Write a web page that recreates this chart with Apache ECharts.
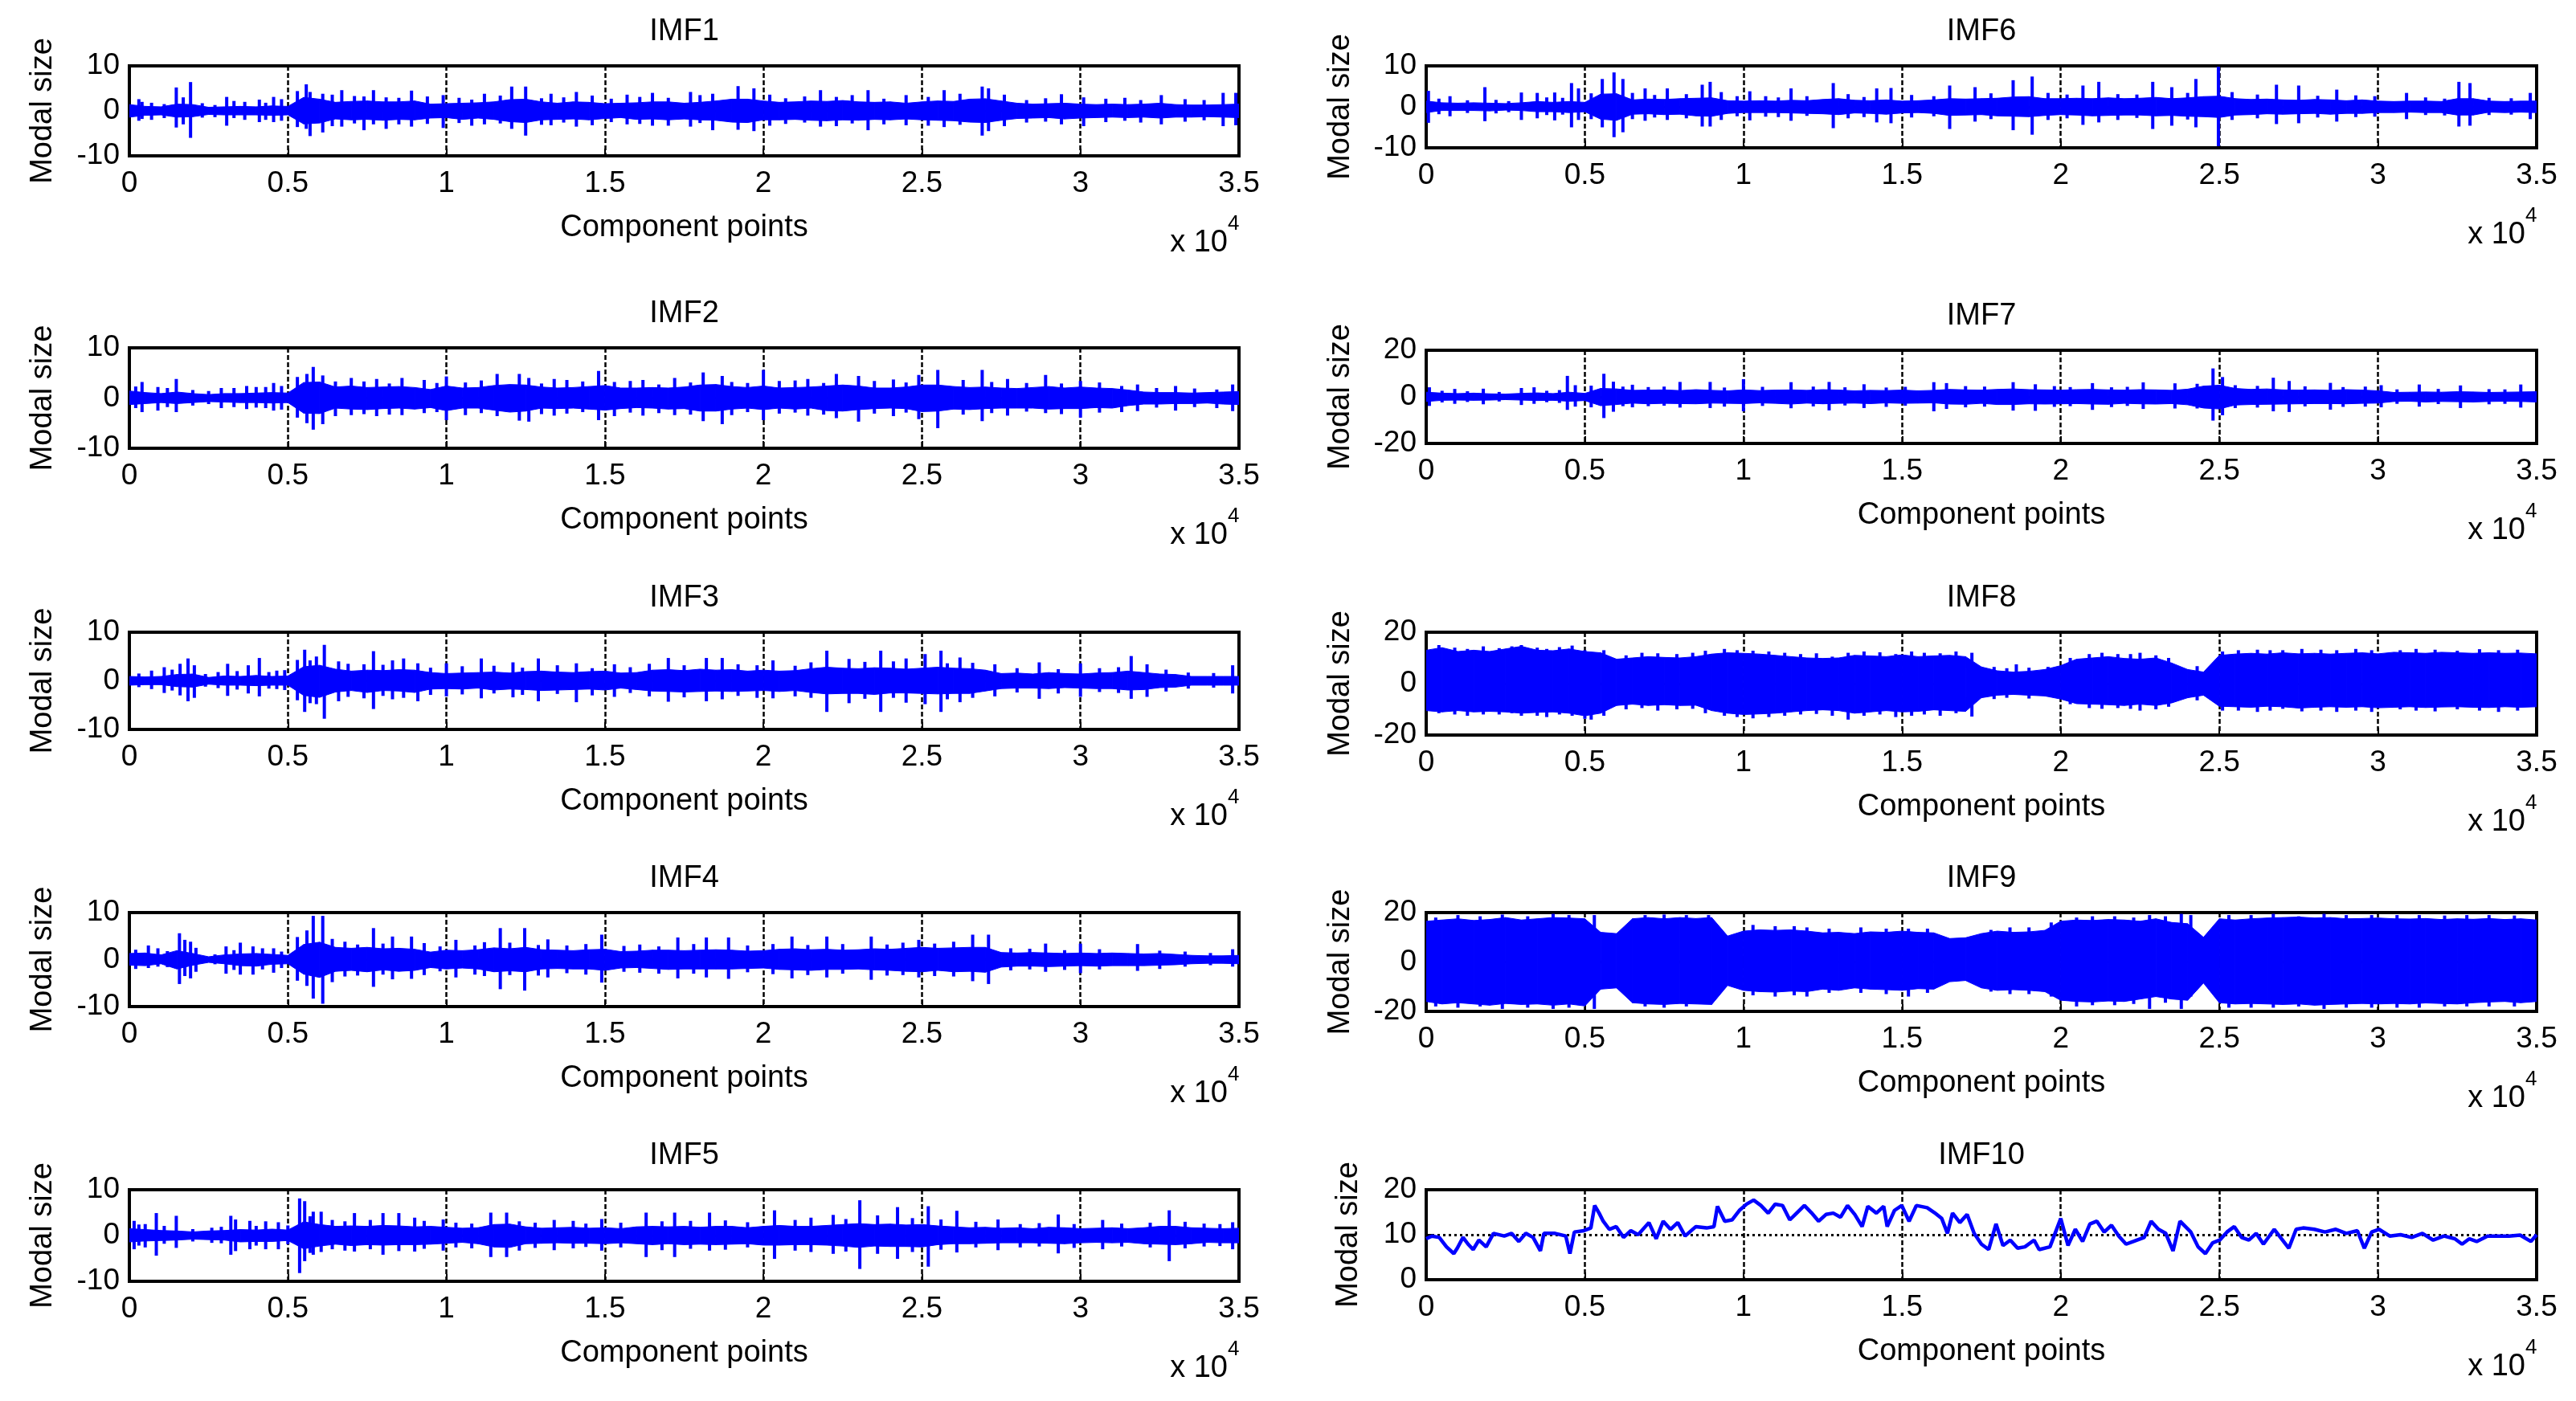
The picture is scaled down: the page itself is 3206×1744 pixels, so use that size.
<!DOCTYPE html>
<html><head><meta charset="utf-8">
<script src="https://cdn.jsdelivr.net/npm/echarts@6/dist/echarts.min.js"></script>
<style>html,body{margin:0;padding:0;background:#fff}#c{width:3206px;height:1744px}</style>
</head><body><div id="c"></div>
<script>
// ---------- tick labels / names ----------
const xTickLabels = ['0','0.5','1','1.5','2','2.5','3','3.5'];
const titles = ['IMF1','IMF2','IMF3','IMF4','IMF5','IMF6','IMF7','IMF8','IMF9','IMF10'];
const STEP = 500; // envelope samples every 500 component points (0 ... 35000)

// ---------- IMF1 ----------
const imf1Hi = [1.4,1.0,0.9,1.5,1.4,0.8,0.9,1.0,0.9,1.1,1.0, 3.0,2.6,1.9,2.1,2.2,2.0,2.0,2.2,1.5,1.6, 1.7,1.8,2.0,2.5,2.6,2.0,1.7,2.0,1.9,1.6, 1.7,1.8,2.0,2.0,1.7,1.9,2.2,2.6,2.6,2.2, 1.9,2.0,2.2,2.1,2.3,2.0,1.9,2.0,1.7,2.0, 2.2,2.1,2.6,2.7,2.2,1.7,1.5,1.6,1.7,1.5, 1.4,1.5,1.4,1.5,1.7,1.4,1.3,1.3,1.4,1.5];
const imf1Lo = [-1.4,-1.0,-0.9,-1.4,-1.3,-0.8,-0.9,-0.9,-0.9,-1.0,-0.9, -2.9,-2.7,-1.8,-2.0,-1.9,-2.1,-1.9,-2.0,-1.6,-1.5, -1.9,-1.6,-1.9,-2.4,-2.6,-2.0,-1.9,-1.8,-2.0,-1.7, -1.5,-1.9,-1.8,-2.0,-1.8,-2.0,-2.1,-2.5,-2.6,-2.0, -2.0,-1.9,-2.1,-2.2,-2.0,-2.1,-1.9,-2.0,-1.8,-2.0, -2.1,-2.2,-2.5,-2.6,-2.1,-1.7,-1.6,-1.5,-1.8,-1.6, -1.5,-1.4,-1.5,-1.4,-1.6,-1.4,-1.4,-1.3,-1.4,-1.5];
const imf1Spikes = [[300,-2.2,2.6],[400,-1.8,2],[700,-2,1.8],[1100,-1.6,1.5],[1480,-3.7,5.2],[1700,-3,3],[1930,-6,6.4],[2300,-1.5,1.7],[2700,-1.4,1.3],[3070,-3.3,3.1],[3300,-1.6,2.2],[3640,-2,2],[4100,-2.5,2.5],[4300,-2,1.8],[4550,-2.5,3.1],[4800,-2.2,2.6],[5300,-3.6,4.4],[5580,-4,5.9],[5700,-5.6,4.2],[6100,-4.8,3.8],[6400,-3.4,3.6],[6700,-3.5,4.6],[7100,-2.8,3.3],[7400,-4.3,3.2],[7700,-3,4.6],[8100,-4,3],[8500,-3,2.9],[8900,-3.5,4.5],[9400,-2.9,3.2],[9900,-3.8,3.5],[10400,-2.7,2.9],[10800,-3.3,2.5],[11200,-3,3.8],[11700,-2.8,3.4],[12060,-4,5.4],[12500,-5.5,5.4],[13000,-3.1,2.8],[13300,-3.2,3.8],[13700,-2.6,3],[14100,-3.5,4.2],[14600,-3.2,3.4],[15200,-2.5,2.7],[15700,-3,3.6],[16100,-2.9,3.1],[16500,-3.3,4],[17000,-3.3,2.9],[17700,-3.5,4.2],[18000,-2.7,3.5],[18400,-4.3,3.8],[19200,-4.2,5.5],[19700,-4.5,5],[20200,-3.3,3.6],[20700,-2.9,2.8],[21300,-2.6,3.2],[21800,-3.5,4.6],[22300,-3.4,3.1],[22800,-2.8,3.5],[23300,-4.3,4.6],[23800,-3,2.7],[24500,-3.2,3.5],[25200,-3.3,3.1],[25700,-3.6,4.6],[26200,-3.1,3.8],[26900,-5.5,5.4],[27100,-4.5,5],[27600,-3.4,3.6],[28300,-2.6,2.4],[28900,-2.4,2.8],[29400,-3,3.7],[30100,-3.4,3],[30800,-2.5,2.7],[31400,-2.2,2.9],[31900,-2.6,2.4],[32550,-3,3.5],[33300,-2.4,2.6],[33900,-2.1,2.4],[34500,-3.4,4],[34900,-3.2,4]];

// ---------- IMF2 ----------
const imf2Hi = [1.4,1.1,0.9,1.2,0.9,0.7,0.9,0.9,1.0,1.1,1.0, 3.1,3.2,2.2,2.4,2.1,2.2,2.3,2.1,1.7,2.4, 2.0,2.1,2.5,2.7,2.6,2.2,2.0,2.1,2.3,2.5, 2.0,2.0,2.1,2.0,2.2,2.6,2.7,2.3,2.1,2.4, 2.0,2.1,2.2,2.4,2.6,2.4,2.0,2.0,2.2,2.6, 2.6,2.3,2.1,2.2,2.0,1.9,2.1,2.3,2.0,2.2, 2.0,1.9,1.6,1.2,1.1,1.1,1.0,1.1,1.2,1.3];
const imf2Lo = [-1.3,-1.1,-0.9,-1.1,-0.9,-0.7,-0.8,-0.9,-0.9,-1.0,-0.9, -3.0,-3.1,-2.0,-2.2,-2.3,-2.1,-2.0,-2.2,-1.9,-2.5, -2.0,-2.0,-2.4,-2.8,-2.6,-2.0,-2.1,-2.0,-2.2,-2.4, -2.1,-1.9,-2.0,-2.2,-2.1,-2.6,-2.6,-2.2,-2.0,-2.3, -2.0,-2.2,-2.0,-2.5,-2.6,-2.3,-2.1,-2.0,-2.1,-2.7, -2.6,-2.2,-2.3,-2.1,-2.0,-2.0,-2.0,-2.2,-2.1,-2.1, -1.9,-2.0,-1.5,-1.2,-1.2,-1.1,-1.1,-1.0,-1.2,-1.3];
const imf2Spikes = [[200,-2,2.3],[400,-2.8,3.2],[900,-2.5,2.2],[1200,-1.8,2],[1480,-2.8,3.8],[2000,-1.5,1.6],[2500,-1.2,1.4],[2900,-2,2],[3300,-1.8,2],[3700,-2.2,2.4],[4000,-1.9,2.2],[4300,-2,2.2],[4550,-2.5,3],[4800,-2.3,2.4],[5300,-3.9,4.2],[5600,-5,4.8],[5800,-6.3,6.2],[6100,-5.2,4.5],[6500,-3.6,3.3],[7000,-3.4,4],[7400,-3.2,3.3],[7800,-3.6,3.8],[8200,-3.3,2.9],[8600,-3.4,4],[9300,-3,3.6],[9700,-2.8,3],[10000,-4.4,4.3],[10600,-3.4,3.1],[11100,-3,3.5],[11600,-3.6,4.8],[12300,-4.5,4.8],[12600,-4.7,4],[13000,-3.2,2.9],[13400,-3.5,3.8],[13800,-3.1,3.6],[14300,-2.8,3.3],[14800,-4.4,5.4],[15300,-3.6,3.2],[15800,-2.9,3.4],[16200,-3.5,3.6],[16700,-3,2.7],[17200,-3.4,4],[17700,-3.3,3.1],[18100,-4.6,5.1],[18700,-5.2,4.4],[19000,-3.4,3.2],[19500,-2.8,3],[20000,-4.4,5.6],[20500,-3.1,3.4],[21000,-2.9,3.5],[21400,-3.5,3.8],[21900,-3.3,3],[22300,-4,4.8],[23000,-4.7,4.4],[23500,-3.1,3.4],[24100,-3.6,3.7],[24500,-2.9,3.1],[24900,-4.2,4.6],[25500,-6,5.6],[26300,-3.3,3.6],[26900,-4.6,5.6],[27200,-3,3.2],[27700,-3.5,3.8],[28300,-2.7,3],[28900,-3,4.6],[29400,-3.2,2.9],[30000,-3.9,3.4],[30600,-2.9,3.1],[31300,-2.8,2.4],[31800,-2.6,2.7],[32400,-1.9,2],[33000,-2.5,2.4],[33600,-1.8,1.9],[34300,-2,1.7],[34800,-2.6,2.7]];

// ---------- IMF3 ----------
const imf3Hi = [0.9,0.8,0.9,1.3,1.4,0.7,1.0,0.9,1.1,0.9,1.0, 2.9,3.2,2.4,2.0,2.2,2.1,2.3,2.2,1.7,1.5, 1.6,1.7,1.8,1.6,1.9,2.0,1.8,1.7,1.9,2.0, 1.6,1.7,2.2,2.3,2.1,2.4,2.2,2.3,2.0,2.2, 2.0,2.1,2.5,2.8,2.6,2.5,2.7,2.6,2.4,2.6, 2.8,2.6,2.5,2.2,1.5,1.6,1.4,1.7,1.5,1.4, 1.6,1.7,2.0,1.7,1.4,1.3,0.9,0.9,0.9,0.9];
const imf3Lo = [-0.9,-0.8,-0.8,-1.2,-1.3,-0.7,-0.9,-0.9,-1.0,-0.9,-0.9, -3.0,-3.4,-2.3,-2.0,-2.4,-2.0,-2.1,-2.4,-1.7,-1.6, -1.7,-1.5,-1.9,-1.7,-1.8,-2.0,-1.9,-1.8,-1.7,-1.9, -1.5,-1.8,-2.1,-2.2,-2.3,-2.2,-2.1,-2.2,-2.1,-2.0, -2.2,-2.0,-2.4,-2.7,-2.6,-2.6,-2.8,-2.5,-2.5,-2.6, -2.7,-2.6,-2.6,-2.1,-1.6,-1.5,-1.5,-1.6,-1.4,-1.5, -1.6,-1.6,-1.9,-1.8,-1.4,-1.3,-0.9,-0.9,-0.9,-0.9];
const imf3Spikes = [[300,-1.3,1.5],[700,-1.7,2.1],[1100,-2.5,2.8],[1350,-2,2.3],[1600,-3,3.5],[1850,-4.2,4.6],[2050,-3.5,3.2],[2400,-1.2,1.4],[2800,-1.5,1.8],[3100,-3.1,3.5],[3400,-1.8,2],[3750,-2.6,3.2],[4100,-3.2,4.7],[4400,-1.6,1.8],[4650,-1.7,2.1],[4900,-1.9,2.2],[5300,-4,4.3],[5530,-6.4,6.4],[5700,-4.6,4.2],[5900,-4.8,5],[6150,-7.8,7.4],[6600,-4.2,4],[6900,-3.3,3.5],[7400,-3.6,3.4],[7700,-5.8,6.1],[8000,-3.1,3.3],[8300,-3.8,4.2],[8650,-3.5,4.6],[9100,-4.2,3.6],[9500,-2.9,2.7],[10000,-3.2,3.6],[10500,-2.8,3],[11100,-3.6,4.6],[11500,-2.6,3.1],[12100,-3.4,3.8],[12400,-2.9,2.7],[12900,-4.2,4.6],[13500,-2.7,3.2],[14100,-4.4,3.6],[14600,-3,2.6],[15300,-3.3,3.4],[15800,-2.5,2.8],[16400,-3.2,3.5],[17000,-4.3,4.7],[17500,-3.4,3.2],[18200,-4.2,4.7],[18700,-3.8,4.7],[19200,-3.1,3.4],[19800,-3.5,3.2],[20300,-3.6,4.2],[21000,-3.2,3.1],[21500,-3.5,3.8],[22000,-6.4,6.2],[22700,-4.6,4.5],[23200,-3.7,3.9],[23700,-6.4,6.2],[24100,-3.5,4],[24500,-4.5,4.6],[25100,-4.8,5.5],[25600,-6.4,6.2],[25800,-3.8,3.6],[26200,-4.4,4.8],[26600,-3.5,3.7],[27300,-3.2,3.4],[28000,-2.4,2.6],[28700,-3.7,3.8],[29300,-2.6,2.4],[30000,-3.3,3.6],[30600,-2.3,2.6],[31200,-2.5,2.8],[31600,-3.7,5.1],[32100,-3.3,3.4],[32700,-2.2,2.3],[33400,-1.6,1.7],[34200,-1.4,1.6],[34800,-2.6,3.2]];

// ---------- IMF4 ----------
const imf4Hi = [1.3,1.4,1.0,1.9,1.3,0.6,1.0,1.2,1.3,1.1,0.9, 3.2,3.7,2.6,2.4,2.6,2.3,2.4,2.2,1.6,2.0, 1.9,2.1,2.5,2.3,2.6,2.1,2.0,1.9,2.1,2.2, 1.7,1.8,2.0,2.0,1.9,2.0,2.1,2.0,1.8,1.9, 2.2,2.3,2.1,2.2,2.0,2.1,2.3,2.2,2.4,2.6, 2.4,2.5,2.6,2.6,1.5,1.4,1.5,1.4,1.3,1.4, 1.3,1.4,1.3,1.2,1.3,1.1,0.9,0.8,0.8,0.9];
const imf4Lo = [-1.2,-1.3,-0.9,-2.0,-1.2,-0.6,-0.9,-1.3,-1.4,-1.0,-0.9, -3.1,-3.8,-2.5,-2.3,-2.6,-2.2,-2.5,-2.3,-1.7,-2.0, -1.8,-2.0,-2.6,-2.4,-2.6,-2.0,-1.9,-2.0,-2.0,-2.3, -1.8,-1.7,-1.9,-2.1,-2.0,-2.0,-2.0,-2.0,-1.9,-1.8, -2.1,-2.2,-2.3,-2.1,-2.1,-2.0,-2.2,-2.3,-2.5,-2.6, -2.3,-2.6,-2.5,-2.7,-1.6,-1.4,-1.4,-1.5,-1.4,-1.3, -1.4,-1.3,-1.3,-1.3,-1.2,-1.1,-0.9,-0.8,-0.8,-0.9];
const imf4Spikes = [[200,-2,2.1],[600,-1.8,3],[900,-1.5,2.4],[1200,-1.6,1.8],[1580,-5.2,5.6],[1750,-3.5,4.2],[1930,-4,3.8],[2100,-2.6,2.5],[2700,-1,1.1],[3050,-3,2.8],[3300,-2.2,2],[3500,-3.2,3.6],[3900,-3.2,2.8],[4200,-2.1,2.4],[4550,-2.8,2.4],[4800,-1.8,1.7],[5300,-4.5,4.8],[5600,-5.6,6.2],[5800,-8.3,9.3],[6100,-9.4,9.3],[6400,-4.8,4.4],[6800,-3.6,3.8],[7200,-3.4,3.2],[7700,-5.8,6.7],[8000,-3.2,3.4],[8300,-4.2,4.9],[8900,-4.1,4.9],[9300,-3.3,3.5],[9800,-2.5,2.8],[10300,-3.8,4.2],[10900,-3.2,3],[11200,-3.5,3.7],[11700,-6.3,6.7],[12000,-3.3,3.6],[12470,-6.6,6.7],[12900,-3.4,3.1],[13200,-3.8,4.3],[13800,-2.9,3],[14400,-3.2,3.3],[14900,-4.9,5.3],[15600,-2.6,2.9],[16100,-2.8,3.2],[16700,-3,2.8],[17300,-4,4.7],[17800,-3,3.3],[18200,-3.8,4.7],[18900,-4.1,4.7],[19500,-2.7,3],[20300,-3.1,3.3],[20900,-4,4.9],[21400,-3.3,3.1],[22000,-3.8,4.9],[22500,-3,3.3],[23400,-4.3,4.9],[23900,-3.4,3.2],[24400,-3.3,3.6],[24900,-3.8,4.2],[25400,-3.5,3.4],[26000,-3.6,3.8],[26600,-4.6,5.3],[27100,-5.2,5.3],[27800,-2.3,2.4],[28400,-2.1,2.3],[28900,-2.6,3.4],[29500,-2.2,2],[30000,-2.9,3.4],[30600,-2.1,2.2],[31800,-2.4,3.3],[32500,-2,1.9],[33300,-1.5,1.7],[34100,-1.2,1.4],[34800,-1.5,2.2]];

// ---------- IMF5 ----------
const imf5Hi = [1.5,1.3,1.1,1.0,0.8,1.0,1.1,1.3,1.2,1.4,1.2, 3.0,2.4,2.0,2.1,2.0,2.2,2.1,1.9,2.0,1.8, 1.6,1.7,2.4,2.5,1.9,1.6,1.7,1.8,1.6,1.7, 1.5,1.9,2.0,1.9,2.0,1.8,2.0,2.0,1.7,2.0, 2.2,2.0,2.0,2.2,2.4,2.6,2.4,2.5,2.3,2.4, 2.1,1.9,1.7,1.8,1.6,1.7,1.5,1.8,1.7,1.5, 1.6,1.7,1.5,1.7,2.0,2.0,1.7,1.6,1.5,1.6];
const imf5Lo = [-1.4,-1.2,-1.1,-1.0,-0.8,-0.9,-1.0,-1.4,-1.3,-1.3,-1.1, -2.9,-2.3,-1.9,-2.2,-2.0,-2.1,-2.0,-2.0,-1.9,-1.7, -1.5,-1.8,-2.5,-2.6,-1.8,-1.7,-1.6,-1.7,-1.7,-1.8, -1.6,-1.8,-2.0,-1.8,-2.0,-1.9,-2.0,-1.9,-1.8,-2.1, -2.1,-2.0,-2.0,-2.1,-2.3,-2.6,-2.3,-2.4,-2.4,-2.5, -2.0,-1.8,-1.8,-1.7,-1.6,-1.6,-1.6,-1.7,-1.8,-1.6, -1.5,-1.6,-1.5,-1.8,-1.9,-2.0,-1.8,-1.5,-1.6,-1.6];
const imf5Spikes = [[150,-3,3.2],[300,-2.2,2.4],[500,-2.6,2.5],[850,-4.4,4.9],[1100,-1.8,2.1],[1480,-2.7,4.3],[2000,-1.3,1.4],[2600,-1.6,1.7],[2900,-1.7,1.9],[3200,-4.2,4.3],[3350,-3.4,3.5],[3800,-3,3.2],[4000,-2.2,2.1],[4300,-3,3.1],[4700,-3,2.9],[5000,-1.9,2.2],[5370,-8.2,8.1],[5530,-5.6,7.5],[5700,-3.8,4.2],[5800,-4.2,5.2],[6050,-3.6,5.2],[6400,-3,3.4],[6800,-3.3,3.1],[7100,-3.5,4.9],[7600,-3,3.4],[8000,-4.2,4.9],[8500,-3.4,4.9],[9000,-3.5,3.9],[9300,-2.9,3.2],[9900,-3.3,3.5],[10300,-2.6,2.8],[10800,-2.8,2.6],[11400,-4.7,5],[11900,-4.7,5],[12300,-3.3,3.1],[12800,-2.7,2.8],[13400,-3.2,3.4],[14000,-2.8,3.2],[14400,-2.5,2.6],[14900,-3.3,3.6],[15500,-2.6,2.8],[16300,-4.7,5],[16800,-3.2,3.1],[17200,-4.7,5],[17700,-2.9,3.2],[18300,-3.3,5],[18800,-3.1,3.3],[19500,-2.6,2.9],[20350,-5.1,5.5],[21000,-3.3,3.4],[21500,-3.6,3.9],[22200,-4,4.5],[22600,-3.5,3.6],[23040,-7.3,7.7],[23600,-4,4.4],[24230,-5.1,6.2],[24700,-3.6,3.8],[25200,-6.8,6.4],[25600,-3.1,3.5],[26100,-3.7,5.4],[26700,-2.6,3],[27400,-3.2,3.5],[28100,-2.6,2.5],[28700,-2.4,2.7],[29300,-3.9,4.6],[29800,-2.7,2.5],[30700,-3,3.4],[31300,-2.4,2.6],[32200,-2.6,2.8],[32800,-5.6,5.5],[33300,-2.8,3],[33900,-2.4,2.6],[34400,-2.3,2.5],[34800,-3,2.9]];

// ---------- IMF6 ----------
const imf6Hi = [1.4,1.0,0.9,1.0,0.9,0.8,1.0,1.3,1.1,1.3,1.1, 3.1,3.2,1.7,1.9,1.8,2.0,2.1,2.2,1.5,1.4, 1.5,1.4,1.6,1.5,1.8,2.0,1.6,1.5,1.7,1.4, 1.5,1.7,2.0,1.9,2.0,2.1,2.4,2.5,2.0,2.0, 2.1,2.0,2.2,2.0,2.1,2.3,2.0,2.2,2.5,2.6, 2.0,1.8,1.9,1.7,1.6,1.8,1.7,1.5,1.7,1.4, 1.3,1.4,1.4,1.3,2.0,2.0,1.4,1.3,1.4,1.4];
const imf6Lo = [-1.4,-0.9,-0.9,-0.9,-1.0,-0.8,-0.9,-1.2,-1.2,-1.4,-1.2, -3.0,-3.3,-1.8,-1.7,-1.9,-1.8,-2.2,-2.3,-1.6,-1.4, -1.4,-1.4,-1.5,-1.6,-1.7,-1.9,-1.5,-1.6,-1.8,-1.5, -1.4,-1.6,-2.1,-2.0,-1.9,-2.2,-2.3,-2.4,-2.1,-1.9, -2.0,-2.2,-2.1,-2.0,-2.0,-2.2,-2.1,-2.3,-2.4,-2.6, -2.0,-1.9,-1.7,-1.8,-1.7,-1.6,-1.8,-1.6,-1.6,-1.4, -1.4,-1.3,-1.4,-1.4,-2.0,-2.0,-1.3,-1.4,-1.3,-1.4];
const imf6Spikes = [[70,-3.9,3.9],[400,-1.8,2],[750,-2.3,2.6],[1300,-1.5,1.6],[1850,-3.5,4.8],[2200,-1.6,1.7],[2600,-1.3,1.4],[3000,-3.2,3.5],[3500,-2.8,3.4],[3800,-2,2.3],[4050,-3.3,3.5],[4300,-1.9,2.2],[4580,-5,5.8],[4800,-3.2,4.5],[5200,-3,3.3],[5550,-5,6.8],[5920,-7.4,8.4],[6200,-6.2,6.8],[6500,-3,3.4],[6900,-3.4,4.5],[7200,-2.6,2.9],[7600,-3.2,4.5],[8200,-2.8,3.1],[8700,-4.8,5.4],[8950,-4.8,6.1],[9300,-3.2,3.6],[9800,-2.3,2.6],[10200,-3.3,3.8],[10700,-2.4,2.6],[11100,-2.5,2.3],[11500,-3.4,4.5],[12000,-2.2,2.6],[12830,-5.2,5.8],[13300,-2.8,3.1],[13800,-2.5,2.4],[14200,-3.8,4.5],[14650,-4,4.6],[15300,-2.6,2.9],[16000,-2.3,2.6],[16500,-5.4,5.2],[17300,-3.6,4.8],[17800,-3,3.3],[18500,-5.7,6.5],[19100,-6.8,7.4],[19600,-3.2,3.4],[20200,-2.8,3],[20700,-4.4,5.2],[21200,-3.8,6.1],[21800,-3.2,3.1],[22400,-2.7,3],[22900,-5.4,6.1],[23500,-4.6,4.8],[24000,-3.1,3.4],[24260,-5,6.8],[24970,-9.6,9.8],[25400,-3.2,3.6],[26200,-2.8,3],[26800,-4.2,5.4],[27500,-4,5.2],[28100,-2.6,2.7],[28700,-3.6,4.2],[29300,-2.5,2.8],[29900,-2.4,2.6],[30900,-3,3.4],[31500,-2,2.3],[32100,-2.1,2],[32550,-4.8,6.1],[32900,-4.6,5.8],[33500,-2,2.2],[34200,-1.9,2.1],[34800,-3,3.4]];

// ---------- IMF7 ----------
const imf7Hi = [2.0,1.6,1.4,1.6,1.3,1.2,1.5,1.7,1.4,2.0,1.5, 3.6,3.4,2.8,2.9,3.0,2.7,3.1,2.8,2.6,3.0, 2.7,2.9,3.0,2.8,3.1,2.9,2.6,2.8,2.7,2.9, 2.6,2.8,3.2,3.0,2.9,3.2,3.4,3.1,3.0,2.9, 3.1,3.2,3.0,2.9,3.1,3.0,2.8,3.3,4.6,5.0, 3.6,3.2,3.4,3.0,2.9,3.0,2.8,3.1,2.9,2.6, 1.9,2.0,2.1,2.0,2.2,2.1,1.9,2.0,2.1,2.2];
const imf7Lo = [-2.0,-1.5,-1.4,-1.5,-1.4,-1.2,-1.4,-1.6,-1.5,-1.9,-1.6, -3.8,-3.3,-2.7,-3.0,-2.8,-2.9,-3.0,-2.7,-2.8,-2.9, -2.6,-2.8,-3.1,-2.7,-3.0,-2.8,-2.7,-2.9,-2.6,-2.8, -2.7,-2.6,-3.1,-3.2,-2.8,-3.3,-3.3,-3.0,-3.1,-3.0, -2.9,-3.1,-3.2,-2.8,-3.0,-3.1,-2.9,-3.4,-4.8,-5.2, -3.5,-3.3,-3.2,-3.1,-3.0,-2.9,-2.9,-3.0,-2.8,-2.7, -2.0,-1.9,-2.2,-2.0,-2.1,-2.2,-2.0,-1.9,-2.0,-2.2];
const imf7Spikes = [[100,-3.9,4.1],[500,-2.4,2.6],[900,-3,3.4],[1300,-2.2,2.4],[1800,-3.2,3.5],[2300,-2,2.1],[3000,-3.5,3.8],[3400,-3,4.1],[3800,-2.3,2.6],[4200,-2.6,2.9],[4450,-5.6,9],[4700,-4.2,5],[5200,-4.5,4.8],[5600,-9.1,9.9],[5900,-6.4,6.5],[6200,-4,4.4],[6500,-4.5,5.2],[7000,-4,4.2],[7500,-3.8,4.4],[8000,-4.6,6.4],[8950,-4.8,6.4],[9400,-4.2,4],[10000,-6.2,7.6],[10600,-3.9,4.3],[11500,-4.9,6.3],[12200,-4.1,4.4],[12700,-5.8,6.4],[13200,-3.7,4.1],[13800,-4.8,5.4],[14500,-4.3,4],[15100,-3.8,4.3],[16000,-6.2,6.3],[16400,-5.2,5.9],[17000,-4.5,4.6],[17600,-4.2,4.4],[18500,-5.9,6.3],[19200,-6,5.4],[19800,-4.3,4.6],[20300,-4,4.2],[21000,-5.6,5.9],[21600,-4.4,4.1],[22100,-3.9,4.3],[22600,-5.2,6.2],[23600,-5,5.8],[24300,-5,5.6],[24800,-10.2,12.2],[25100,-7.9,8.5],[25500,-4.8,5],[26200,-4.6,4.7],[26700,-6.2,8.2],[27200,-6.5,6.8],[27700,-4.1,4.5],[28500,-5.5,6],[28900,-4.3,4.2],[29600,-4.2,4.4],[30100,-4.5,5],[30600,-3,3.2],[31300,-4.2,5.3],[31900,-3.1,3.4],[32600,-4.8,4.9],[33500,-3.2,3.3],[34000,-3,3.2],[34500,-4.6,5.3]];

// ---------- IMF8 ----------
const imf8Hi = [13,14,12.5,13,12.5,13.5,14.5,13,12.8,13.5,12.5, 12,9.5,10,10.5,10.2,10,10.5,11.5,12,11.8, 11.5,11,10.5,10,9.8,10,11,10.8,10.5,11.2, 10.5,10.8,11,10.5,6.5,5,4.5,4.8,5.5,7, 9.5,10,10.5,9.8,9.5,10,8,5.5,4.5,11, 11.5,11.8,11.5,12,11.6,11.8,11.5,11.8,12,11.6, 12.2,12,11.8,12.2,12,11.8,12,11.8,11.9,11.6];
const imf8Lo = [-10.5,-11,-10.5,-11,-10.8,-11,-11.5,-11.2,-11,-11.5,-12.5, -11.5,-8.5,-8,-8.5,-8.2,-8.5,-8.4,-10.5,-11.5,-12, -11.8,-11.5,-11,-10.5,-10.2,-10.5,-11.5,-11,-10.5,-11, -10.8,-10.2,-10.5,-10.8,-5.5,-4.5,-4.2,-4.5,-4.8,-6, -7.8,-8,-8.2,-8.5,-8,-8.5,-7.5,-5.5,-4.5,-8.8, -9,-9.2,-8.8,-9,-9.5,-9.2,-9,-9.2,-9,-9.4, -9.2,-9,-9.3,-9.1,-9,-9.2,-9.3,-9,-9.2,-9];
const imf8Spikes = [[400,-11.5,15],[900,-12,14],[1300,-12.5,13.5],[1800,-12,14.5],[2300,-12,13.8],[2700,-11.5,14.5],[3000,-12.5,15],[3500,-12.5,14],[3800,-13,13.5],[4200,-12,14.2],[4600,-12.5,14.8],[5000,-13.7,13],[5200,-14,12],[5600,-12.5,13],[6300,-10,11],[6800,-9.5,12],[7300,-10.5,11.8],[7900,-10,11.5],[8400,-9.8,12],[8800,-11.5,12.8],[9400,-12.5,13.5],[9800,-13,13],[10300,-13.5,12.8],[10800,-13,12.5],[11300,-12.5,12],[11800,-12,11.5],[12300,-11.8,11.8],[12800,-12.5,10.5],[13300,-14,12],[13800,-12.5,12.5],[14300,-12,12.2],[14800,-13,11.5],[15300,-12.5,12.5],[15700,-12,12],[16200,-12.5,11.8],[16700,-11.5,12.5],[17200,-12.8,12],[17900,-6,6.5],[18300,-5.5,6],[18600,-3,7.5],[19000,-5.8,6.2],[19600,-5,6.5],[20300,-8,10],[20900,-9.5,11.5],[21300,-9.8,12],[21800,-9.5,11.5],[22200,-9.8,11.5],[22500,-10.5,12],[23000,-10,11],[23400,-9,10],[24300,-6.5,6.8],[25100,-10.5,12.5],[25600,-10.5,13],[26200,-11,13.2],[26600,-10.5,13],[27000,-9.8,13],[27600,-10.8,13.5],[28200,-10.5,13.2],[28700,-11,13],[29300,-10.5,13.5],[29800,-11,13],[30700,-10,13],[31200,-10.5,13.5],[31800,-10.8,13.2],[32500,-10,12.8],[33200,-10.5,13.4],[33800,-11,13],[34400,-10.5,13.2]];

// ---------- IMF9 ----------
const imf9Hi = [16.5,17,17.5,16.8,17.2,18,17,17.5,18,17.8,17.5, 12,11.5,17.5,18,17.5,18,17.6,18,10.5,12.5, 13,12.8,13,12.5,11.8,12,11.5,12.2,12,12.5, 12,11.8,9.5,9.8,11.5,12.5,12,12.2,12.8,16.5, 17,16.8,17.2,17,16.5,17.5,16,15.5,10,17.5, 17,17.5,17.8,18,18.2,17.8,18,17.5,17.6,17.8, 17.5,17.4,17.6,17.2,17.5,17.3,17.6,17.2,17.5,17];
const imf9Lo = [-16,-17,-16.5,-17,-17.5,-16.8,-17.2,-17,-17.5,-17,-17.8, -11,-10.5,-16.5,-17,-17.2,-16.8,-17,-17.2,-9.5,-11.5, -12,-12.2,-11.8,-12,-11,-11.5,-10.5,-11,-11.2,-11.5, -10.8,-11,-8,-7.5,-10.5,-11.5,-11.2,-11.5,-12,-15.5, -16,-16.2,-15.8,-16,-15,-14,-15,-15.5,-8.5,-16.5, -17,-16.8,-17,-17.2,-17,-17.5,-17.2,-17,-16.8,-17, -16.8,-17,-16.6,-16.8,-17,-16.5,-16.2,-16,-16.5,-16];
const imf9Spikes = [[300,-18,18],[1000,-18.5,19],[1700,-18,18.5],[2400,-19,19.2],[3200,-18.5,18.5],[4000,-19,19.5],[4500,-18.5,19],[5300,-19,19],[6900,-18,19],[7500,-18.5,19.2],[8200,-18,19],[8900,-17,19],[10300,-13.5,15],[11000,-14,14.5],[11600,-13.5,14.5],[12000,-14,14],[12700,-12.5,13.5],[13700,-12.5,14],[14500,-13,13.5],[15200,-14,13.5],[15800,-12.5,13.5],[17800,-12,13],[18400,-13,14],[19000,-13,14],[19700,-14,16],[20500,-18,18],[21000,-17.5,18.5],[21700,-17.5,18.5],[22300,-17,18],[22800,-19,19],[23300,-16.5,18.5],[23800,-19,19.5],[24100,-14,19],[25300,-18.5,19],[26000,-18.5,19],[26700,-18.5,19.5],[27500,-18,18.5],[28300,-19,19.5],[29000,-18.5,19],[29800,-18.5,19],[30600,-18.5,19],[31300,-18.5,19],[32100,-18,18.8],[32800,-18,19],[33500,-18,19],[34300,-18,18.8]];

// ---------- IMF10 ----------
const imf10X = [0,180,410,640,870,980,1160,1320,1480,1660, 1890,2120,2460,2690,2920,3140,3370,3600,3710,4060, 4400,4530,4670,4970,5190,5310,5450,5580,5770,5990, 6220,6450,6680,7020,7250,7470,7700,7930,8160,8500, 8840,9070,9180,9410,9640,9870,10100,10320,10550,10780, 11000,11230,11460,11690,11920,12140,12370,12600,12830,13060, 13280,13510,13740,13920,14190,14420,14530,14760,14990,15220, 15450,15790,16020,16250,16430,16590,16820,17050,17270,17500, 17730,17960,18180,18410,18640,18870,19160,19320,19660,20000, 20230,20460,20690,20920,21140,21370,21600,21830,22060,22290, 22630,22850,23080,23310,23540,23760,24100,24330,24560,24790, 25010,25240,25470,25700,25930,26160,26390,26730,26960,27190, 27420,27640,27990,28330,28670,29000,29350,29570,29800,30030, 30370,30710,31060,31400,31740,32080,32420,32650,32880,33110, 33450,33790,34130,34480,34820,35000];
const imf10Y = [9.1,9.7,9.4,7.3,5.8,7.0,9.4,7.9,6.7,8.8, 7.3,10.3,9.7,10.3,8.5,10.3,9.4,6.4,10.3,10.3, 9.7,5.8,10.6,10.9,11.5,16.5,14.8,13.0,11.2,11.8, 9.4,10.9,10.0,12.7,9.1,13.0,11.2,12.7,9.7,11.8, 11.5,11.8,16.3,13.0,13.3,15.4,16.8,17.7,16.5,14.8, 16.8,16.5,13.3,14.9,16.5,14.9,13.0,14.5,14.8,13.9, 16.5,14.5,11.8,16.3,14.8,16.3,11.8,15.4,16.5,13.0, 16.5,16.0,14.9,13.6,10.3,14.8,12.7,14.5,10.3,7.9, 6.7,12.4,7.6,8.8,7.0,7.3,8.8,6.7,7.3,13.6, 7.6,11.2,8.5,12.4,13.0,10.6,12.1,9.7,7.9,8.5, 9.4,13.0,11.2,10.3,6.4,13.0,10.6,7.3,5.8,8.2, 8.8,10.6,11.8,9.4,8.8,10.3,7.9,11.2,9.1,7.0, 11.2,11.5,11.2,10.6,11.2,10.3,10.9,7.0,10.6,11.2, 9.7,10.0,9.4,10.3,8.8,9.7,9.1,7.9,9.1,8.5, 9.7,9.7,9.7,9.9,8.5,10.0];

// ---------- layout (pixels) ----------
const FONT = "'Liberation Sans', Arial, Helvetica, sans-serif";
const BLUE = '#0000ff';
const panels = [
  {hi:imf1Hi, lo:imf1Lo, sp:imf1Spikes, y:[-10,10,10], box:[161,82,1381,112], xname:true, ng:88},
  {hi:imf2Hi, lo:imf2Lo, sp:imf2Spikes, y:[-10,10,10], box:[161,433,1381,125], xname:true, ng:88},
  {hi:imf3Hi, lo:imf3Lo, sp:imf3Spikes, y:[-10,10,10], box:[161,787,1381,121], xname:true, ng:88},
  {hi:imf4Hi, lo:imf4Lo, sp:imf4Spikes, y:[-10,10,10], box:[161,1136,1381,117], xname:true, ng:88},
  {hi:imf5Hi, lo:imf5Lo, sp:imf5Spikes, y:[-10,10,10], box:[161,1481,1381,114], xname:true, ng:88},
  {hi:imf6Hi, lo:imf6Lo, sp:imf6Spikes, y:[-10,10,10], box:[1775,82,1382,102], xname:false, ng:87},
  {hi:imf7Hi, lo:imf7Lo, sp:imf7Spikes, y:[-20,20,20], box:[1775,436,1382,116], xname:true, ng:87},
  {hi:imf8Hi, lo:imf8Lo, sp:imf8Spikes, y:[-20,20,20], box:[1775,787,1382,128], xname:true, ng:87},
  {hi:imf9Hi, lo:imf9Lo, sp:imf9Spikes, y:[-20,20,20], box:[1775,1136,1382,123], xname:true, ng:87},
  {line:true, y:[0,20,10], box:[1775,1481,1382,112], xname:true, ng:77}
];

const chart = echarts.init(document.getElementById('c'), null, {renderer:'canvas'});
const grids = [], xAxes = [], yAxes = [], series = [], titleOpts = [], graphics = [];

panels.forEach((p, i) => {
  const [L, T, W, H] = p.box;
  grids.push({left:L, top:T, width:W, height:H, show:true, borderColor:'#000', borderWidth:4, backgroundColor:'transparent', containLabel:false});
  xAxes.push({
    gridIndex:i, type:'value', min:0, max:35000, interval:5000,
    axisLine:{show:false, onZero:false},
    axisTick:{show:true, inside:true, length:9, lineStyle:{color:'#000', width:2}},
    axisLabel:{fontSize:37, color:'#000', fontFamily:FONT, margin:16, formatter:(v) => xTickLabels[Math.round(v/5000)]},
    splitLine:{show:true, lineStyle:{color:'#000', width:2.5, type:[6,3]}},
    name: p.xname ? 'Component points' : '', nameLocation:'middle', nameGap:71,
    nameTextStyle:{fontSize:38, color:'#000', fontFamily:FONT}
  });
  yAxes.push({
    gridIndex:i, type:'value', min:p.y[0], max:p.y[1], interval:p.y[2],
    axisLine:{show:false, onZero:false},
    axisTick:{show:true, inside:true, length:9, lineStyle:{color:'#000', width:2}},
    axisLabel:{fontSize:37, color:'#000', fontFamily:FONT, margin:12},
    splitLine:{show:true, lineStyle:{color:'#000', width:3, type:[3,4]}},
    name:'Modal size', nameLocation:'middle', nameRotate:90, nameGap:p.ng,
    nameTextStyle:{fontSize:38, color:'#000', fontFamily:FONT}
  });
  titleOpts.push({text:titles[i], left:L + W/2, top:T - 66, textAlign:'center', padding:[5,0,5,0],
    textStyle:{fontSize:38, fontWeight:'normal', color:'#000', fontFamily:FONT}});
  const R = L + W, B = T + H;
  graphics.push({type:'text', x:R - 14, y:B + 109, style:{text:'x 10', fill:'#000', fontSize:38, fontFamily:FONT, align:'right', verticalAlign:'middle'}});
  graphics.push({type:'text', x:R - 14, y:B + 85, style:{text:'4', fill:'#000', fontSize:26, fontFamily:FONT, align:'left', verticalAlign:'middle'}});

  if (p.line) {
    series.push({type:'line', xAxisIndex:i, yAxisIndex:i, showSymbol:false, symbol:'none', animation:false,
      lineStyle:{color:BLUE, width:4.5}, data: imf10X.map((x, k) => [x, imf10Y[k]]), z:3});
  } else {
    const seg = [];
    for (let k = 0; k < p.hi.length - 1; k++) {
      seg.push([k*STEP, p.lo[k], p.hi[k], (k+1)*STEP, p.lo[k+1], p.hi[k+1]]);
    }
    series.push({type:'custom', xAxisIndex:i, yAxisIndex:i, animation:false, clip:true,
      encode:{x:[0,3], y:[1,2,4,5]}, data:seg, z:3,
      renderItem:(params, api) => {
        const a = api.coord([api.value(0), api.value(2)]);
        const b = api.coord([api.value(3), api.value(5)]);
        const c = api.coord([api.value(3), api.value(4)]);
        const d = api.coord([api.value(0), api.value(1)]);
        return {type:'polygon', shape:{points:[a,b,c,d]}, style:{fill:BLUE, stroke:BLUE, lineWidth:1}};
      }});
    series.push({type:'custom', xAxisIndex:i, yAxisIndex:i, animation:false, clip:true,
      encode:{x:0, y:[1,2]}, data:p.sp, z:4,
      renderItem:(params, api) => {
        const t = api.coord([api.value(0), api.value(2)]);
        const b = api.coord([api.value(0), api.value(1)]);
        return {type:'rect', shape:{x:t[0]-2, y:t[1], width:4, height:b[1]-t[1]}, style:{fill:BLUE}};
      }});
  }
});

chart.setOption({
  backgroundColor:'#ffffff',
  animation:false,
  title:titleOpts,
  grid:grids,
  xAxis:xAxes,
  yAxis:yAxes,
  series:series,
  graphic:graphics
});
</script>
</body></html>
